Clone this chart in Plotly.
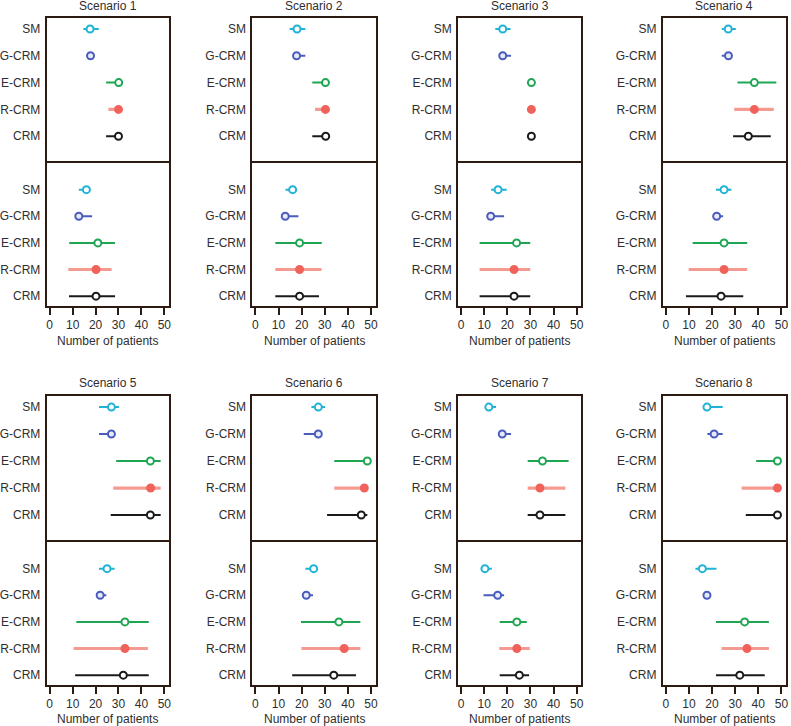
import plotly.graph_objects as go

W, H = 791, 726

methods = ["SM", "G-CRM", "E-CRM", "R-CRM", "CRM"]
scenarios = ["Scenario 1", "Scenario 2", "Scenario 3", "Scenario 4",
             "Scenario 5", "Scenario 6", "Scenario 7", "Scenario 8"]
x_ticks = [0, 10, 20, 30, 40, 50]
x_title = "Number of patients"

# upper panel: estimate, lower end, upper end (per scenario, per method)
upper_est = [
    [17.6, 17.8, 30.1, 30.0, 30.0],
    [18.0, 17.8, 30.3, 30.3, 30.4],
    [18.0, 18.0, 30.4, 30.4, 30.4],
    [27.0, 27.1, 38.3, 38.3, 35.7],
    [26.9, 26.9, 43.9, 44.0, 43.9],
    [27.2, 27.2, 48.4, 47.1, 45.8],
    [12.0, 17.8, 35.2, 34.1, 34.1],
    [17.8, 20.9, 48.3, 48.3, 48.3],
]
upper_lo = [
    [14.7, 17.0, 24.6, 25.6, 24.6],
    [14.8, 17.0, 24.6, 25.8, 24.6],
    [14.8, 16.8, 30.0, 30.0, 30.0],
    [24.2, 24.2, 31.0, 29.6, 29.1],
    [21.5, 21.5, 29.0, 27.7, 26.6],
    [24.2, 20.9, 34.1, 34.1, 31.0],
    [10.9, 16.8, 28.8, 28.8, 28.8],
    [16.7, 18.0, 39.1, 32.8, 34.6],
]
upper_hi = [
    [21.4, 18.6, 31.0, 31.4, 31.0],
    [21.6, 21.6, 31.0, 31.4, 31.3],
    [21.4, 21.6, 30.8, 30.8, 30.8],
    [30.3, 28.3, 47.8, 46.7, 45.4],
    [30.2, 27.7, 48.4, 48.4, 48.4],
    [30.1, 28.1, 49.1, 48.1, 48.4],
    [15.1, 21.6, 46.5, 45.1, 45.1],
    [24.6, 24.6, 49.3, 49.3, 49.3],
]
# lower panel
lower_est = [
    [16.0, 12.7, 21.0, 20.2, 20.2],
    [16.1, 12.9, 19.1, 19.1, 19.1],
    [16.0, 12.8, 24.0, 22.9, 22.9],
    [25.2, 22.0, 25.2, 25.2, 23.9],
    [25.0, 22.0, 32.8, 32.8, 32.1],
    [25.2, 22.0, 36.1, 38.4, 33.9],
    [10.3, 15.8, 24.1, 24.1, 25.2],
    [15.8, 17.8, 34.1, 35.1, 32.0],
]
lower_lo = [
    [12.7, 11.3, 8.5, 8.1, 8.4],
    [13.0, 11.9, 8.6, 8.6, 8.6],
    [13.0, 11.7, 8.0, 8.0, 8.0],
    [21.7, 21.0, 11.6, 9.9, 8.7],
    [21.5, 21.0, 11.6, 10.4, 11.1],
    [21.6, 21.0, 19.7, 19.9, 15.9],
    [9.3, 9.7, 16.7, 16.5, 16.7],
    [12.8, 16.1, 21.7, 24.1, 21.7],
]
lower_hi = [
    [17.5, 18.5, 28.5, 27.0, 28.5],
    [17.4, 18.6, 28.7, 28.6, 27.5],
    [19.7, 18.6, 29.9, 29.9, 29.9],
    [28.4, 24.8, 35.2, 35.2, 33.5],
    [28.3, 24.7, 43.2, 42.8, 43.2],
    [25.9, 24.9, 45.4, 45.4, 43.5],
    [13.3, 18.6, 28.4, 29.7, 29.4],
    [21.9, 19.4, 44.6, 44.6, 42.8],
]

# styles
line_col = {"SM": "#1fb3d6", "G-CRM": "#4a5cbd", "E-CRM": "#1fa653",
            "R-CRM": "#f59a90", "CRM": "#1a1a1a"}
mark_col = {"SM": "#1fb3d6", "G-CRM": "#4a5cbd", "E-CRM": "#1fa653",
            "R-CRM": "#f0625a", "CRM": "#1a1a1a"}
fill_col = {"SM": "white", "G-CRM": "#e6e9f7", "E-CRM": "white",
            "R-CRM": "#f0625a", "CRM": "white"}
line_w = {"SM": 2, "G-CRM": 2, "E-CRM": 2, "R-CRM": 3.2, "CRM": 2}

FONT = "Liberation Sans, Arial, sans-serif"
FS = 12
TXT = "#2e2e2e"
BOX = "#2b1b12"

col_px = [(44, 167), (251, 375), (458, 582), (664, 788)]
row_px = [((18, 163), (163, 306)), ((396, 542), (542, 685))]
title_y = [6, 383]
xtitle_y = [341, 719]

fig = go.Figure()
layout = dict(
    width=W, height=H,
    margin=dict(l=0, r=0, t=0, b=0),
    paper_bgcolor="white", plot_bgcolor="white",
    showlegend=False,
    font=dict(family=FONT, size=FS, color=TXT),
)
annotations = []

panel_data = [(upper_est, upper_lo, upper_hi), (lower_est, lower_lo, lower_hi)]
yranges = [[5.0, -0.41], [4.37, -1.0]]

k = 0
for s in range(8):
    r, c = divmod(s, 4)
    x0, x1 = col_px[c]
    for p in range(2):
        k += 1
        y0, y1 = row_px[r][p]
        xa = "xaxis" if k == 1 else f"xaxis{k}"
        ya = "yaxis" if k == 1 else f"yaxis{k}"
        xref = "x" if k == 1 else f"x{k}"
        yref = "y" if k == 1 else f"y{k}"
        est, lo, hi = panel_data[p]
        for m_i, m in enumerate(methods):
            e = est[s][m_i]
            fig.add_trace(go.Scatter(
                x=[e], y=[m], xaxis=xref, yaxis=yref, mode="markers",
                marker=dict(symbol="circle", size=7, color=fill_col[m],
                            line=dict(color=mark_col[m], width=2)),
                error_x=dict(type="data", symmetric=False,
                             array=[hi[s][m_i] - e],
                             arrayminus=[e - lo[s][m_i]],
                             width=0, thickness=line_w[m], color=line_col[m]),
                hoverinfo="x+y",
            ))
        bottom = (p == 1)
        xdict = dict(
            domain=[x0 / W, x1 / W], anchor=yref, range=[-1.3, 52],
            showgrid=False, zeroline=False,
            showline=True, linecolor=BOX, linewidth=2,
            tickfont=dict(family=FONT, size=FS, color=TXT),
            fixedrange=True,
        )
        if bottom:
            xdict.update(tickvals=x_ticks, ticktext=[str(t) for t in x_ticks],
                         ticks="outside", ticklen=7, tickwidth=1.6,
                         tickcolor=BOX, mirror=True, side="bottom")
        else:
            # only the top border; the divider comes from the lower panel
            xdict.update(side="top", mirror=False, showticklabels=False,
                         ticks="", tickvals=[])
        layout[xa] = xdict
        layout[ya] = dict(
            domain=[1 - y1 / H, 1 - y0 / H], anchor=xref,
            type="category", categoryorder="array", categoryarray=methods,
            range=yranges[p],
            showgrid=False, zeroline=False, ticks="",
            showline=True, mirror=True, linecolor=BOX, linewidth=2,
            tickfont=dict(family=FONT, size=FS, color=TXT),
            ticklabelstandoff=2,
            fixedrange=True,
        )
    xc = (x0 + x1) / 2 / W
    annotations.append(dict(
        text=scenarios[s], x=xc, y=1 - title_y[r] / H, xref="paper", yref="paper",
        xanchor="center", yanchor="middle", showarrow=False,
        font=dict(family=FONT, size=FS, color=TXT)))
    annotations.append(dict(
        text=x_title, x=xc, y=1 - xtitle_y[r] / H, xref="paper", yref="paper",
        xanchor="center", yanchor="middle", showarrow=False,
        font=dict(family=FONT, size=FS, color=TXT)))

layout["annotations"] = annotations
fig.update_layout(**layout)
fig.write_html(
    "out.html",
    config={"displayModeBar": False},
    post_script="document.body.style.margin='0';document.body.style.padding='0';"
                "document.documentElement.style.overflow='hidden';",
)
